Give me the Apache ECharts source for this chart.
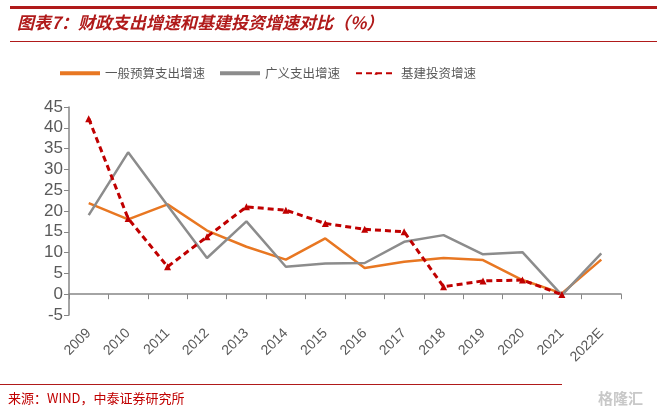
<!DOCTYPE html>
<html><head><meta charset="utf-8">
<script src="https://cdn.jsdelivr.net/npm/echarts@6/dist/echarts.min.js"></script>
<style>html,body{margin:0;padding:0;background:#fff}#c{width:667px;height:418px}</style>
</head><body><div id="c"></div>
<script>
var categories = ['2009','2010','2011','2012','2013','2014','2015','2016','2017','2018','2019','2020','2021','2022E'];
var budgetGrowth = [21.9, 18.0, 21.6, 15.3, 11.4, 8.3, 13.4, 6.3, 7.8, 8.7, 8.2, 3.4, 0.2, 8.3];
var broadGrowth = [19.0, 34.1, 21.3, 8.7, 17.5, 6.6, 7.4, 7.5, 12.6, 14.2, 9.6, 10.1, -0.2, 9.8];
var infraGrowth = [42.2, 18.2, 6.6, 13.8, 21.0, 20.2, 17.0, 15.6, 15.0, 1.8, 3.2, 3.4, -0.1, null];
var seriesNames = ['一般预算支出增速', '广义支出增速', '基建投资增速'];

var chart = echarts.init(document.getElementById('c'));
var red = '#C00000';
chart.setOption({
  animation: false,
  graphic: [
    {type:'rect', shape:{x:10,y:6,width:647,height:3}, style:{fill:'#B01A1A'}},
    {type:'text', left:17, top:14, style:{text:'图表7：财政支出增速和基建投资增速对比（%）', fill:'#B01A1A', font:'italic bold 17px "Noto Sans CJK SC"'}},
    {type:'rect', shape:{x:10,y:41,width:647,height:1}, style:{fill:'#B01A1A'}},
    {type:'rect', shape:{x:0,y:384,width:562,height:1}, style:{fill:'#B01A1A'}},
    {type:'text', left:8, top:392, style:{text:'来源：WIND，中泰证券研究所', fill:'#C00000', font:'13px "Noto Sans CJK SC"'}},
    {type:'text', left:598, top:391, style:{text:'格隆汇', fill:'#c8c8c8', font:'bold 15px "Noto Sans CJK SC"'}}
  ],
  legend: {
    top: 62, left: 55, itemGap: 15, itemWidth: 40, itemHeight: 4,
    textStyle: {color:'#595959', fontSize:12.5, fontFamily:'Noto Sans CJK SC', padding:[0,0,0,0]},
    data: [
      {name: seriesNames[0], icon:'rect'},
      {name: seriesNames[1], icon:'rect'},
      {name: seriesNames[2]}
    ]
  },
  grid: {left:69, right:46, top:107, bottom:103},
  xAxis: {
    type:'category', data:categories, boundaryGap:true,
    axisLine:{onZero:true, lineStyle:{color:'#868686', width:1.5}},
    axisTick:{show:true, alignWithLabel:false, length:5, lineStyle:{color:'#868686'}},
    axisLabel:{rotate:45, color:'#595959', fontSize:14, fontFamily:'Liberation Sans', margin:16, interval:0}
  },
  yAxis: {
    type:'value', min:-5, max:45, interval:5,
    axisLine:{show:true, lineStyle:{color:'#868686', width:1.5}},
    axisTick:{show:true, length:5, inside:false, lineStyle:{color:'#868686'}},
    splitLine:{show:false},
    axisLabel:{color:'#595959', fontSize:17, fontFamily:'Liberation Sans', margin:6}
  },
  series: [
    {name:seriesNames[0], type:'line', data:budgetGrowth, symbol:'none', lineStyle:{color:'#E87722', width:2.5}, itemStyle:{color:'#E87722'}},
    {name:seriesNames[1], type:'line', data:broadGrowth, symbol:'none', lineStyle:{color:'#8C8C8C', width:2.5}, itemStyle:{color:'#8C8C8C'}},
    {name:seriesNames[2], type:'line', data:infraGrowth, symbol:'triangle', symbolSize:7, lineStyle:{color:red, width:3, type:[6,4]}, itemStyle:{color:red}}
  ]
});
</script></body></html>
